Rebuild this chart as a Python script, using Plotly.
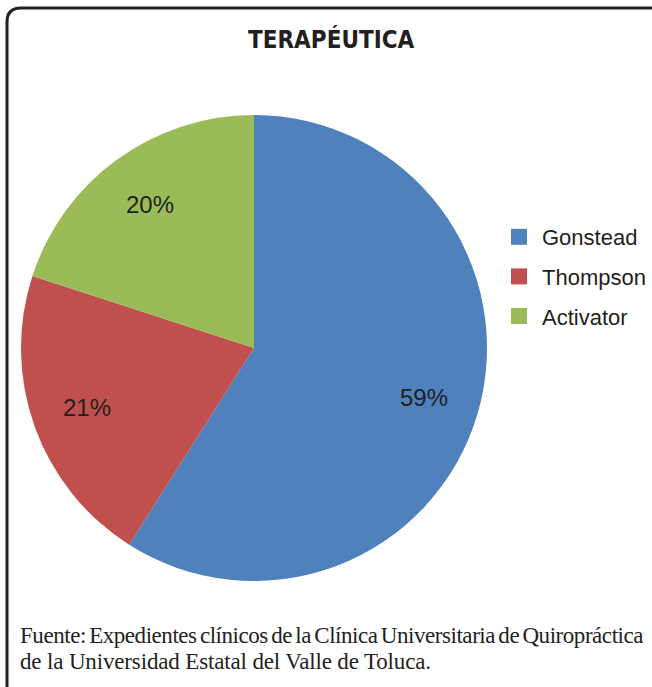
import math
import plotly.graph_objects as go

W, H = 652, 687

categories = ["Gonstead", "Thompson", "Activator"]
values = [59, 21, 20]
colors = ["#4F81BD", "#C0504D", "#9BBB59"]
title_text = "TERAPÉUTICA"
footer_lines = [
    "Fuente: Expedientes clínicos de la Clínica Universitaria de Quiropráctica",
    "de la Universidad Estatal del Valle de Toluca.",
]

def px(x):
    return x / W

def py(y):
    return 1 - y / H

# pie geometry (pixels)
CX, CY, R = 254, 348, 233
LABEL_FRAC = 0.76

fig = go.Figure()

fig.add_trace(go.Pie(
    labels=categories,
    values=values,
    sort=False,
    direction="clockwise",
    rotation=0,
    marker=dict(colors=colors, line=dict(width=0)),
    textinfo="none",
    domain=dict(x=[px(CX - R), px(CX + R)], y=[py(CY + R), py(CY - R)]),
    showlegend=False,
    hoverinfo="label+percent",
))

# percentage labels placed at slice mid-angles computed from the values
total = sum(values)
cum = 0
for v in values:
    mid = (cum + v / 2) / total * 2 * math.pi
    cum += v
    lx = CX + LABEL_FRAC * R * math.sin(mid)
    ly = CY - LABEL_FRAC * R * math.cos(mid)
    fig.add_annotation(
        text=f"{round(v / total * 100)}%", x=px(lx), y=py(ly),
        xref="paper", yref="paper", showarrow=False,
        xanchor="center", yanchor="middle",
        font=dict(family="Liberation Sans, Arial, sans-serif", size=24, color="#231f20"),
    )

for name, c in zip(categories, colors):
    fig.add_trace(go.Scatter(
        x=[None], y=[None], mode="markers", name=name,
        legendgroup=name,
        marker=dict(symbol="square", size=16, color=c),
        showlegend=True,
    ))

# border (rounded rectangle, partially cropped)
r = 14
path = (f"M {px(7)},{py(690)} L {px(7)},{py(8 + r)} "
        f"Q {px(7)},{py(8)} {px(7 + r)},{py(8)} L {px(700)},{py(8)}")
fig.add_shape(type="path", path=path, xref="paper", yref="paper",
              line=dict(color="#231f20", width=3))

fig.add_annotation(
    text=f"<b>{title_text}</b>", x=px(332), y=py(40), xref="paper", yref="paper",
    showarrow=False, xanchor="center", yanchor="middle",
    font=dict(family="DejaVu Sans Condensed, Liberation Sans", size=24, color="#231f20"),
)

footer_styles = ["letter-spacing:-0.45px;word-spacing:-2px", "letter-spacing:-0.15px"]
for i, (line, st) in enumerate(zip(footer_lines, footer_styles)):
    txt = f'<span style="{st}">{line}</span>'
    fig.add_annotation(
        text=txt, x=px(18), y=py(635 + 26 * i), xref="paper", yref="paper",
        showarrow=False, xanchor="left", yanchor="middle",
        font=dict(family="Liberation Serif, Times New Roman, serif", size=23, color="#231f20"),
    )

fig.update_layout(
    width=W, height=H,
    margin=dict(l=0, r=0, t=0, b=0),
    paper_bgcolor="white", plot_bgcolor="white",
    xaxis=dict(visible=False, domain=[0.98, 1]),
    yaxis=dict(visible=False, domain=[0.98, 1]),
    legend=dict(
        x=px(496), y=py(216), xanchor="left", yanchor="top",
        font=dict(family="Liberation Sans, Arial, sans-serif", size=22, color="#231f20"),
        traceorder="grouped", tracegroupgap=8,
        itemwidth=36,
        bgcolor="rgba(0,0,0,0)",
    ),
)

fig.write_html("out.html", config={"displayModeBar": False},
               post_script="document.body.style.margin='0px';")
